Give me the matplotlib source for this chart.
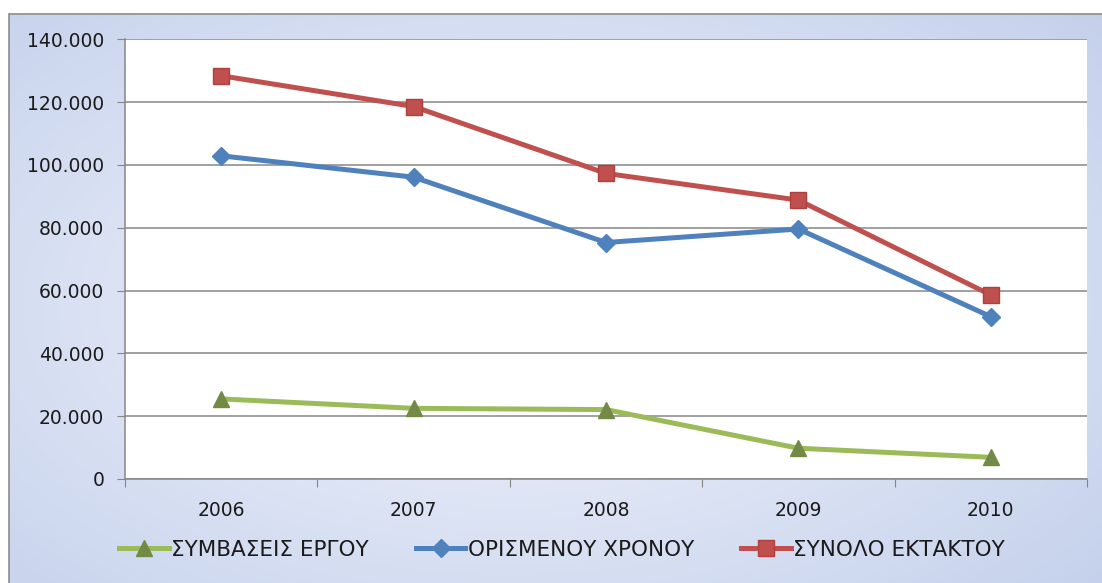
import numpy as np
import matplotlib
matplotlib.use("Agg")
import matplotlib.pyplot as plt
import matplotlib.ticker as ticker
from matplotlib.patches import Rectangle

# data
years = ['2006', '2007', '2008', '2009', '2010']
symvaseis_ergou = [25500, 22500, 22100, 9800, 6900]
orismenou_xronou = [102900, 96100, 75300, 79600, 51700]
synolo_ektaktou = [128400, 118600, 97300, 88800, 58600]

plt.rcParams['font.family'] = ['DejaVu Sans']

W, H = 1102, 583
fig = plt.figure(figsize=(W / 100, H / 100), dpi=100)
fig.patch.set_facecolor('white')

# gradient background of the chart area
bg = fig.add_axes([0, 0, 1, 1], zorder=-10)
bg.set_axis_off()
yy, xx = np.mgrid[0:1:200j, 0:1:400j]
r = np.sqrt(((xx - 0.45) / 0.75) ** 2 + ((yy - 0.5) / 0.8) ** 2)
r = np.clip(r, 0, 1)
c_edge = np.array([0.76, 0.81, 0.92])
c_mid = np.array([0.95, 0.96, 0.99])
img = c_mid[None, None, :] * (1 - r[..., None]) + c_edge[None, None, :] * r[..., None]
x0, y0 = 9 / W, 1 - 14 / H
bg.imshow(img, extent=[x0, 1.02, -0.02, y0], aspect='auto', origin='upper')
bg.set_xlim(0, 1)
bg.set_ylim(0, 1)
bg.add_patch(Rectangle((x0, -0.05), 1.1, y0 + 0.05, fill=False,
                       edgecolor='#8c8c8c', linewidth=1.2))

ax = fig.add_axes([125 / W, (H - 479) / H, 962 / W, (479 - 39.3) / H])
ax.set_facecolor('white')
x = np.arange(len(years))

ax.plot(x, symvaseis_ergou, color='#9BBB59', lw=3.6, marker='^', ms=12,
        mfc='#728A45', mec='#728A45', label='ΣΥΜΒΑΣΕΙΣ ΕΡΓΟΥ', zorder=3)
ax.plot(x, orismenou_xronou, color='#4F81BD', lw=3.6, marker='D', ms=9,
        mfc='#4F81BD', mec='#4F81BD', label='ΟΡΙΣΜΕΝΟΥ ΧΡΟΝΟΥ', zorder=3)
ax.plot(x, synolo_ektaktou, color='#C0504D', lw=3.6, marker='s', ms=11,
        mfc='#C0504D', mec='#B0403D', label='ΣΥΝΟΛΟ ΕΚΤΑΚΤΟΥ', zorder=3)

ax.set_xlim(-0.5, len(years) - 0.5)
ax.set_ylim(0, 140000)
ax.yaxis.set_major_locator(ticker.MultipleLocator(20000))
ax.yaxis.set_major_formatter(ticker.FuncFormatter(
    lambda v, p: f"{int(v):,}".replace(',', '.')))
ax.grid(axis='y', color='#868686', linewidth=1.1)
ax.set_axisbelow(True)

ax.set_xticks(np.arange(-0.5, len(years), 1.0))
ax.set_xticklabels([])
ax.set_xticks(x, minor=True)
ax.set_xticklabels(years, minor=True)
ax.tick_params(axis='x', which='major', length=6, color='#868686', direction='out')
ax.tick_params(axis='x', which='minor', length=0, pad=16, labelsize=13.5,
               labelcolor='#1a1a1a')
ax.tick_params(axis='y', length=6, color='#868686', pad=9, labelsize=13.5,
               labelcolor='#1a1a1a')

for s in ['top', 'right']:
    ax.spines[s].set_visible(False)
for s in ['left', 'bottom']:
    ax.spines[s].set_color('#868686')
    ax.spines[s].set_linewidth(1.1)

leg = fig.legend(loc='center', bbox_to_anchor=(562 / W, 1 - 550 / H), ncol=3,
                 frameon=False, fontsize=15.5, handlelength=2.3,
                 handletextpad=0.1, columnspacing=2.2)
for t in leg.get_texts():
    t.set_color('#1a1a1a')

fig.savefig('out.png', dpi=100)
